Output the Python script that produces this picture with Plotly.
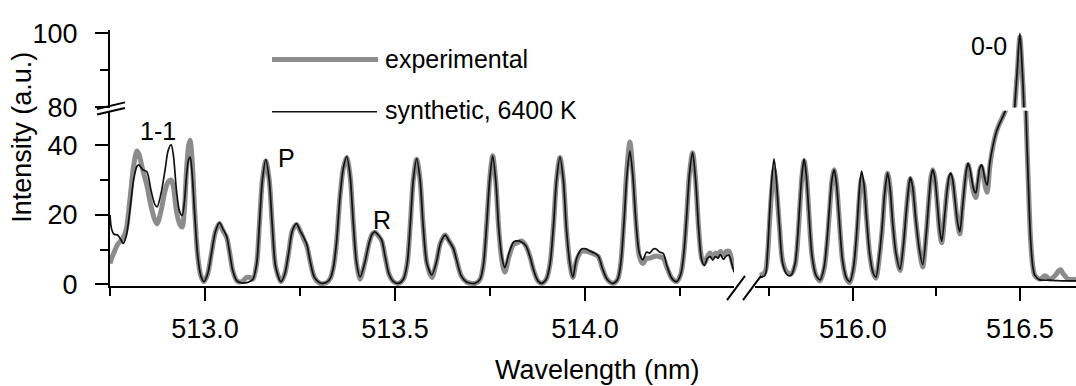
import plotly.graph_objects as go

# ---------------- data ----------------
# left part of the broken wavelength axis
left_wl = [
    512.750, 512.754, 512.760, 512.770, 512.778, 512.785, 512.793, 512.802, 512.812, 512.821, 512.826,
    512.836, 512.847, 512.858, 512.868, 512.874, 512.884, 512.895, 512.903, 512.911, 512.917, 512.925,
    512.933, 512.940, 512.946, 512.952, 512.957, 512.961, 512.966, 512.973, 512.981, 512.989, 512.997,
    513.007, 513.017, 513.027, 513.038, 513.047, 513.057, 513.065, 513.073, 513.084, 513.097, 513.110, 513.118, 513.126,
    513.136, 513.143, 513.151, 513.160, 513.169, 513.177, 513.186, 513.200,
    513.210, 513.220, 513.230, 513.241, 513.250, 513.260, 513.268, 513.277, 513.288, 513.303, 513.320, 513.330,
    513.338, 513.346, 513.355, 513.364, 513.373, 513.382, 513.390, 513.399, 513.408,
    513.420, 513.432, 513.440, 513.447, 513.456, 513.465, 513.474, 513.484, 513.496, 513.509,
    513.522, 513.532, 513.540, 513.548, 513.557, 513.566, 513.574, 513.584, 513.597,
    513.608, 513.620, 513.632, 513.642, 513.653, 513.662, 513.674, 513.688, 513.711,
    513.724, 513.733, 513.741, 513.749, 513.757, 513.765, 513.773, 513.781, 513.789,
    513.800, 513.812, 513.822, 513.833, 513.845, 513.855, 513.865, 513.876, 513.886,
    513.898, 513.908, 513.917, 513.925, 513.934, 513.943, 513.951, 513.960, 513.968,
    513.978, 513.991, 514.003, 514.013, 514.025, 514.035, 514.046, 514.058, 514.074,
    514.086, 514.094, 514.102, 514.110, 514.118, 514.126, 514.134, 514.143, 514.152,
    514.162, 514.170, 514.180, 514.187, 514.196, 514.206, 514.215, 514.228, 514.241,
    514.252, 514.260, 514.267, 514.275, 514.283, 514.291, 514.299, 514.307, 514.314,
    514.322, 514.329, 514.336, 514.343, 514.350, 514.356, 514.364, 514.372, 514.379, 514.386, 514.392,
]
left_syn = [
    20, 16, 14.5, 14.2, 13, 11.8, 14, 21, 30, 34, 34.4,
    33, 32.4, 27, 23, 22.3, 26, 33, 38.5, 40.2, 37, 27,
    21, 19.8, 24, 32, 36, 36.6, 32, 20, 8, 2.5, 0.8,
    3, 9, 15, 17.8, 16, 13.8, 9, 4, 1, 0.4, 0.5, 0.8, 1.5,
    6, 17, 30, 35.9, 30, 17, 5, 0.8,
    3, 9, 15.5, 17.5, 15.5, 13.5, 11.5, 6.5, 2, 0.4, 0.6, 1.8,
    5, 12, 25, 33.5, 36.8, 31, 18, 6, 2.1,
    6, 12, 14.5, 15.1, 14.2, 12.8, 8, 3, 0.8, 0.3,
    1.5, 6, 17, 30, 36.1, 30, 17, 6, 2.7,
    6, 12, 14.2, 12.5, 10.5, 7, 2.5, 0.7, 0.3,
    1.5, 6, 17, 30, 37, 30, 16, 8, 4.8,
    9, 12.2, 12.5, 12.2, 11, 8, 4, 1, 0.3,
    1.5, 6, 17, 30, 36.6, 30, 16, 6, 2.1,
    7.5, 10.2, 10.2, 9.6, 9, 8.2, 4.5, 1.5, 0.3,
    1.5, 6, 17, 31, 38.4, 31, 18, 9, 7.1,
    9.3, 9, 10.2, 10.2, 9.3, 8.9, 5.5, 1.8, 0.8,
    3, 9, 19, 32, 37.9, 30, 16, 7, 5.4,
    7.5, 8, 7, 8, 7.5, 8.6, 7.2, 8.2, 8.4, 6, 3.5,
]
left_exp = [
    6, 7.5, 9, 11.5, 12.5, 13.5, 16, 24, 34, 38.4, 37.5,
    33, 28.5, 22.5, 18.5, 17.4, 21, 27, 29.5, 30, 28, 21,
    17.5, 16.5, 22, 34, 40, 41.5, 36, 21, 8, 2.5, 0.8,
    3, 9, 15, 17.5, 15.5, 13.5, 9, 4, 1, 0.8, 2, 2, 1.5,
    6, 17, 30, 35.5, 30, 17, 5, 0.8,
    3, 9, 15.5, 17.2, 15.5, 13, 11, 6.5, 2, 0.3, 0.5, 1.8,
    5, 12, 25, 33.5, 36.5, 31, 18, 6, 1.5,
    6, 12, 14.5, 15, 14, 12.5, 8, 3, 0.8, 0.3,
    1.5, 6, 17, 30, 36, 30, 17, 6, 2,
    6, 12, 14.2, 12.5, 10.5, 7, 2.5, 0.7, 0.3,
    1.5, 6, 17, 30, 37, 30, 16, 7, 3.5,
    8, 11.5, 12, 12.5, 11, 8, 4, 1, 0.3,
    1.5, 6, 17, 30, 36.5, 30, 16, 6, 2,
    7, 9.5, 9.5, 9.2, 8.7, 8, 4.5, 1.5, 0.3,
    1.5, 6, 18, 33, 41, 32, 18, 8, 6,
    7.5, 7.5, 8, 8.2, 8, 7.5, 5, 1.8, 0.8,
    3, 9, 19, 32, 37.9, 30, 16, 7.5, 6,
    8, 9, 8, 9, 8.5, 9.5, 8.5, 9.5, 9.5, 7, 4.5,
]

# right part of the broken wavelength axis
right_wl = [
    515.722, 515.737, 515.745, 515.750, 515.757, 515.764, 515.771, 515.780, 515.790, 515.803, 515.815,
    515.827, 515.835, 515.841, 515.847, 515.854, 515.861, 515.868, 515.878, 515.890, 515.902,
    515.914, 515.922, 515.930, 515.937, 515.944, 515.951, 515.959, 515.969, 515.981, 515.991,
    516.002, 516.010, 516.016, 516.021, 516.026, 516.033, 516.041, 516.050, 516.060, 516.069,
    516.080, 516.088, 516.095, 516.104, 516.111, 516.119, 516.129, 516.141,
    516.151, 516.159, 516.166, 516.172, 516.179, 516.188, 516.199, 516.209,
    516.220, 516.228, 516.234, 516.239, 516.245, 516.253, 516.260, 516.266,
    516.275, 516.282, 516.288, 516.293, 516.299, 516.306, 516.313, 516.320,
    516.328, 516.335, 516.340, 516.345, 516.351, 516.358, 516.363, 516.368,
    516.375, 516.380, 516.385, 516.390, 516.396, 516.402,
    516.410, 516.420, 516.430, 516.440, 516.450, 516.460, 516.470, 516.478, 516.485, 516.492,
    516.500, 516.506, 516.512, 516.518, 516.525, 516.532, 516.539, 516.545,
    516.560, 516.575, 516.590, 516.605, 516.615, 516.622, 516.630, 516.645, 516.668,
]
right_syn = [
    2, 2.6, 10, 19, 30, 36.1, 30, 17, 6, 2.8, 2.6,
    6, 14, 23, 31, 36.1, 31, 21, 8, 2.5, 1.3,
    5, 12, 22, 30, 33, 29, 19, 7, 1.8, 0.8,
    5, 13, 22, 29, 32.6, 29, 19, 9, 3.5, 2.1,
    9, 17, 26, 32.1, 28, 18, 9, 4.4,
    11, 20, 27, 30.8, 28, 19, 10, 5.7,
    15, 25, 31, 33, 31, 23, 15.5, 12.4,
    20, 27, 31, 32.1, 30, 24, 18, 15.1,
    22, 29, 33, 34.8, 33, 29, 27, 26.3,
    30.5, 33.5, 34.4, 33, 30, 28.5,
    35, 40.2, 44, 46.4, 48.5, 51, 60, 70, 80.5, 90,
    100, 92, 80, 50, 30, 13, 5, 2.6,
    1.3, 1.2, 1.2, 1.1, 1.1, 1.0, 1.0, 1.0, 1.0,
]
right_exp = [
    2.5, 3.5, 9, 17, 27, 33, 28, 17, 6.5, 3.5, 3,
    5.5, 13, 22, 30.5, 35.5, 31, 21, 8, 2.5, 1,
    4.5, 11, 21, 29.5, 33, 29, 19, 7, 1.5, 0.5,
    4.5, 12, 20, 27, 30.5, 28.5, 19, 9, 3.5, 1.8,
    8.5, 16, 25.5, 32, 28, 18, 9, 4,
    11, 20, 27, 30.5, 28, 19, 10, 5,
    15, 25, 31, 33, 31, 23, 15, 12,
    20, 27, 30.5, 31.5, 29.5, 24, 18, 14.5,
    22, 29, 32.5, 34.5, 32, 28, 26, 25,
    29.5, 33, 34, 32, 28.5, 26.5,
    34, 40, 44, 46.5, 48.5, 51, 60, 70, 80.5, 89,
    99, 91, 80, 50, 30, 13, 5, 2.5,
    1.5, 2.5, 1.5, 2.5, 3.8, 4.2, 3, 1.5, 1.5,
]

series_names = ["experimental", "synthetic, 6400 K"]
band_labels = ["1-1", "P", "R", "0-0"]

# ---------------- styling ----------------
FONT = "Liberation Sans, Arial, Helvetica, sans-serif"
GRAY = "#8c8c8c"
BLACK = "#111111"
EXP_W = 5
SYN_W = 1.7
W, H = 1076, 386


def px(x):
    return x / W


def py(y):
    return 1 - y / H


fig = go.Figure()

line_exp = dict(color=GRAY, width=EXP_W, shape="spline", smoothing=0.8)
line_syn = dict(color=BLACK, width=SYN_W, shape="spline", smoothing=0.8)

# left segment, lower panel
fig.add_trace(go.Scatter(x=left_wl, y=left_exp, mode="lines", line=line_exp,
                         xaxis="x", yaxis="y", name=series_names[0], showlegend=False))
fig.add_trace(go.Scatter(x=left_wl, y=left_syn, mode="lines", line=line_syn,
                         xaxis="x", yaxis="y", name=series_names[1], showlegend=False))
# right segment, lower panel
fig.add_trace(go.Scatter(x=right_wl, y=right_exp, mode="lines", line=line_exp,
                         xaxis="x2", yaxis="y", name=series_names[0], showlegend=False))
fig.add_trace(go.Scatter(x=right_wl, y=right_syn, mode="lines", line=line_syn,
                         xaxis="x2", yaxis="y", name=series_names[1], showlegend=False))
# right segment, upper panel (broken intensity axis)
fig.add_trace(go.Scatter(x=right_wl, y=right_exp, mode="lines", line=line_exp,
                         xaxis="x2", yaxis="y2", name=series_names[0], showlegend=False))
fig.add_trace(go.Scatter(x=right_wl, y=right_syn, mode="lines", line=line_syn,
                         xaxis="x2", yaxis="y2", name=series_names[1], showlegend=False))

tickfont = dict(family=FONT, size=27, color="black")
common_x = dict(showline=True, linecolor="black", linewidth=2, ticks="outside", ticklen=13,
                tickwidth=2, tickcolor="black", showgrid=False, zeroline=False,
                tickfont=tickfont, tickformat=".1f", dtick=0.5, ticklabelstandoff=4,
                minor=dict(dtick=0.25, ticks="outside", ticklen=8, tickwidth=2,
                           tickcolor="black", showgrid=False))
common_y = dict(showline=True, linecolor="black", linewidth=2, ticks="outside", ticklen=13,
                tickwidth=2, tickcolor="black", showgrid=False, zeroline=False,
                tickfont=tickfont, dtick=20, tick0=0, ticklabelstandoff=12,
                minor=dict(dtick=10, ticks="outside", ticklen=8, tickwidth=2,
                           tickcolor="black", showgrid=False))

fig.update_layout(
    width=W, height=H, autosize=False,
    margin=dict(l=0, r=0, t=0, b=0),
    paper_bgcolor="white", plot_bgcolor="white",
    showlegend=False,
    font=dict(family=FONT, color="black"),
    xaxis=dict(domain=[px(110), px(734)], range=[512.75, 514.392], anchor="y",
               tick0=513.0, **common_x),
    xaxis2=dict(domain=[px(755), 1.0], range=[515.707, 516.668], anchor="y",
                tick0=516.0, **common_x),
    yaxis=dict(domain=[py(295), py(107)], range=[-0.5, 49.95], anchor="x", **common_y),
    yaxis2=dict(domain=[py(103.5), py(20)], range=[79.9, 101], anchor="x", **common_y),
)


def label(text, x, y, size, xanchor="center", angle=0):
    fig.add_annotation(text=text, xref="paper", yref="paper", x=px(x), y=py(y),
                       xanchor=xanchor, yanchor="middle", textangle=angle,
                       showarrow=False, font=dict(family=FONT, size=size, color="black"))


# axis titles
label("Wavelength (nm)", 597, 385, 27)
label("Intensity (a.u.)", 22, 136, 27, angle=-90)

# band labels
for t, (lx, ly) in zip(band_labels, [(158, 129), (286, 158), (382, 224), (989, 37)]):
    label(t, lx, ly, 25)

# legend drawn as in the original (long sample lines)
fig.add_shape(type="line", xref="paper", yref="paper", x0=px(272), x1=px(378),
              y0=py(52), y1=py(52), line=dict(color=GRAY, width=EXP_W))
fig.add_shape(type="line", xref="paper", yref="paper", x0=px(272), x1=px(377),
              y0=py(108), y1=py(108), line=dict(color=BLACK, width=SYN_W))
label(series_names[0], 383, 52, 25, xanchor="left")
label(series_names[1], 383, 106, 25, xanchor="left")

# axis-break marks
for (x0, y0, x1, y1) in [(97, 105, 125, 98), (97, 111, 125, 104),
                         (727, 310, 745, 284), (743, 310, 761, 284)]:
    fig.add_shape(type="line", xref="paper", yref="paper", x0=px(x0), y0=py(y0),
                  x1=px(x1), y1=py(y1), line=dict(color="black", width=2))

fig.write_html("out.html")
